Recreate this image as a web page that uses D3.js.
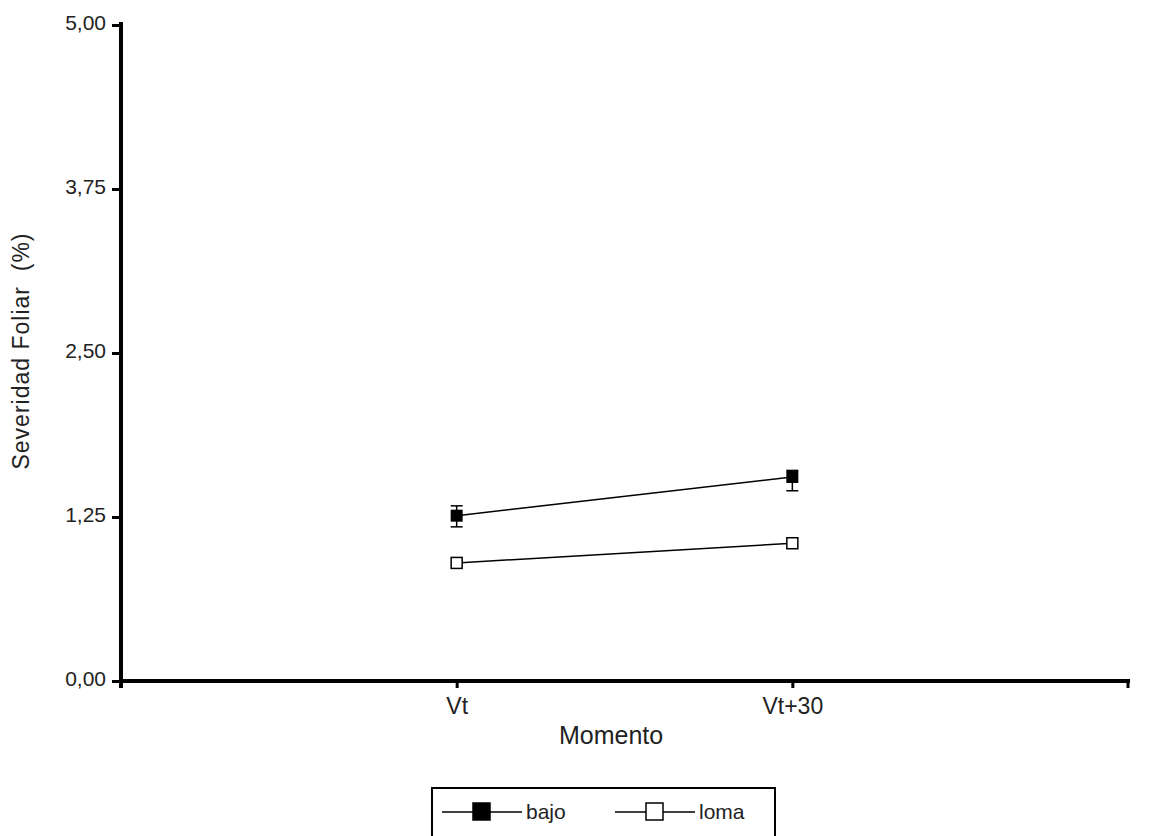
<!DOCTYPE html>
<html>
<head>
<meta charset="utf-8">
<script src="https://cdn.jsdelivr.net/npm/d3@7"></script>
<style>
  body { margin: 0; background: #fff; }
  text { font-family: "Liberation Sans", Arial, sans-serif; fill: #222; }
</style>
</head>
<body>
<div id="chart"></div>
<script>
const categories = ["Vt", "Vt+30"];
const yTicks = [0, 1.25, 2.5, 3.75, 5];

const bajoMean = [1.26, 1.555];
const bajoLow  = [1.175, 1.45];
const bajoHigh = [1.335, 1.605];
const lomaMean = [0.90, 1.05];

const margin = { top: 25, right: 22, bottom: 155, left: 121 };
const W = 1150, H = 836;
const width = W - margin.left - margin.right;
const height = H - margin.top - margin.bottom;

const svg = d3.select("#chart").append("svg")
  .attr("width", W)
  .attr("height", H);

const g = svg.append("g")
  .attr("transform", `translate(${margin.left},${margin.top})`);

// categories sit at 1/3 and 2/3 of the axis
const x = d3.scalePoint()
  .domain(["", ...categories, " "])
  .range([0, width]);
const y = d3.scaleLinear().domain([0, 5]).range([height, 0]);

const fmt = d => d3.format(".2f")(d).replace(".", ",");

// y axis
const yAxis = g.append("g")
  .call(d3.axisLeft(y).tickValues(yTicks).tickFormat(fmt).tickSize(9).tickPadding(6));
yAxis.select(".domain").remove();
yAxis.selectAll(".tick line").attr("stroke", "#000").attr("stroke-width", 3);
yAxis.selectAll(".tick text").style("font-size", "21px").attr("fill", "#222").attr("dy", "0.2em");
g.append("line")
  .attr("x1", 0).attr("x2", 0)
  .attr("y1", -3).attr("y2", height + 7)
  .attr("stroke", "#000").attr("stroke-width", 4);

// x axis
const xAxis = g.append("g")
  .attr("transform", `translate(0,${height})`)
  .call(d3.axisBottom(x).tickValues(categories).tickSize(7).tickPadding(10));
xAxis.select(".domain").remove();
xAxis.selectAll(".tick line").attr("stroke", "#000").attr("stroke-width", 3);
xAxis.selectAll(".tick text").style("font-size", "23px").attr("fill", "#222");
g.append("line")
  .attr("x1", -2).attr("x2", width + 2)
  .attr("y1", height).attr("y2", height)
  .attr("stroke", "#000").attr("stroke-width", 4);
g.append("line")
  .attr("x1", width).attr("x2", width)
  .attr("y1", height).attr("y2", height + 7)
  .attr("stroke", "#000").attr("stroke-width", 3);

// axis titles
g.append("text")
  .attr("x", x("Vt") + (x("Vt+30") - x("Vt")) * 0.46)
  .attr("y", height + 63)
  .attr("text-anchor", "middle")
  .style("font-size", "25px")
  .text("Momento");

g.append("text")
  .attr("transform", "rotate(-90)")
  .attr("x", -height / 2 + 2)
  .attr("y", -92)
  .attr("text-anchor", "middle")
  .style("font-size", "23px")
  .style("letter-spacing", "1px")
  .style("white-space", "pre")
  .text("Severidad Foliar  (%)");

// series
const line = d3.line()
  .x((d, i) => x(categories[i]))
  .y(d => y(d));

g.append("path").datum(bajoMean)
  .attr("d", line).attr("fill", "none").attr("stroke", "#000").attr("stroke-width", 1.5);
g.append("path").datum(lomaMean)
  .attr("d", line).attr("fill", "none").attr("stroke", "#000").attr("stroke-width", 1.5);

// error bars for bajo
categories.forEach((c, i) => {
  const cx = x(c);
  g.append("line")
    .attr("x1", cx).attr("x2", cx)
    .attr("y1", y(bajoHigh[i])).attr("y2", y(bajoLow[i]))
    .attr("stroke", "#000").attr("stroke-width", 1.5);
  [bajoHigh[i], bajoLow[i]].forEach(v => {
    g.append("line")
      .attr("x1", cx - 6).attr("x2", cx + 6)
      .attr("y1", y(v)).attr("y2", y(v))
      .attr("stroke", "#000").attr("stroke-width", 1.5);
  });
});

const sq = 12;
g.selectAll(".bajo").data(bajoMean).enter().append("rect")
  .attr("class", "bajo")
  .attr("x", (d, i) => x(categories[i]) - sq / 2)
  .attr("y", d => y(d) - sq / 2)
  .attr("width", sq).attr("height", sq)
  .attr("fill", "#000");

g.selectAll(".loma").data(lomaMean).enter().append("rect")
  .attr("class", "loma")
  .attr("x", (d, i) => x(categories[i]) - sq / 2 + 0.5)
  .attr("y", d => y(d) - sq / 2 + 0.5)
  .attr("width", sq - 1).attr("height", sq - 1)
  .attr("fill", "#fff").attr("stroke", "#000").attr("stroke-width", 1.5);

// legend
const legend = svg.append("g").attr("transform", "translate(432,788)");
legend.append("rect")
  .attr("x", 0).attr("y", 0)
  .attr("width", 343).attr("height", 80)
  .attr("fill", "#fff").attr("stroke", "#000").attr("stroke-width", 2);

const items = [
  { name: "bajo", fill: "#000", x0: 10 },
  { name: "loma", fill: "#fff", x0: 183 }
];
items.forEach(it => {
  const li = legend.append("g").attr("transform", `translate(${it.x0},24)`);
  li.append("line").attr("x1", 0).attr("x2", 80).attr("y1", 0).attr("y2", 0)
    .attr("stroke", "#000").attr("stroke-width", 1.5);
  li.append("rect").attr("x", 31).attr("y", -9).attr("width", 17).attr("height", 17)
    .attr("fill", it.fill).attr("stroke", "#000").attr("stroke-width", 1.5);
  li.append("text").attr("x", 84).attr("y", 0).attr("dy", "0.35em")
    .style("font-size", "21px").text(it.name);
});
</script>
</body>
</html>
